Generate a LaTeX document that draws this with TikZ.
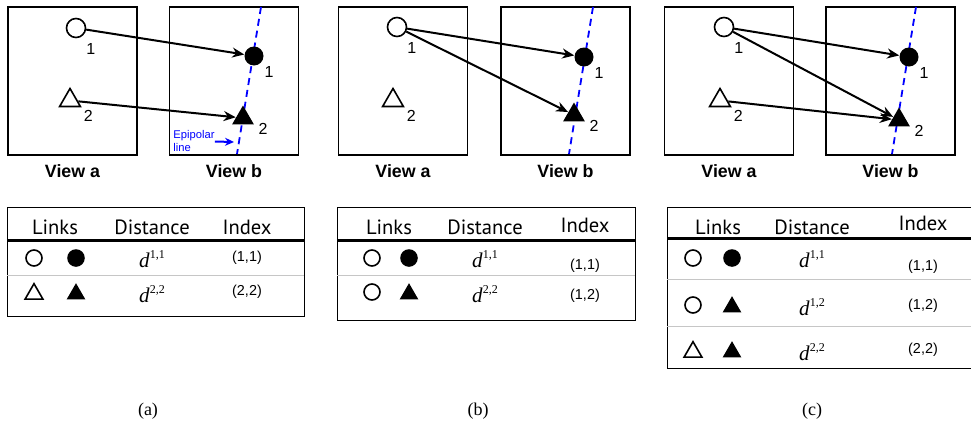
\documentclass[tikz,border=0pt]{standalone}
\usepackage{fontspec}
\setmainfont{Liberation Serif}
\newfontfamily\helv{Liberation Sans}
\newfontfamily\tabfont{PT Sans}
\usepackage{tikz}
\usetikzlibrary{
  arrows.meta,
  positioning,
  shapes.geometric
}
\newcommand{\dist}[1]{\textit{d}\raisebox{0.42em}{\fontsize{6}{6}\selectfont #1}}
\tikzset{
  viewbox/.style={draw, line width=0.6pt, inner sep=0pt,
    minimum width=64.5pt, minimum height=74pt},
  opencirc/.style={circle, draw, line width=0.8pt, fill=white,
    minimum size=9.5pt, inner sep=0pt},
  fullcirc/.style={circle, fill=black, minimum size=9.5pt, inner sep=0pt},
  opentri/.style={regular polygon, regular polygon sides=3, draw,
    line width=0.8pt, fill=white, minimum size=12pt, inner sep=0pt},
  fulltri/.style={regular polygon, regular polygon sides=3, fill=black,
    minimum size=12.5pt, inner sep=0pt},
  tabocirc/.style={circle, draw, line width=0.8pt, minimum size=8pt, inner sep=0pt},
  tabfcirc/.style={circle, fill=black, minimum size=8.8pt, inner sep=0pt},
  tabotri/.style={regular polygon, regular polygon sides=3, draw,
    line width=0.8pt, minimum size=10.3pt, inner sep=0pt},
  tabftri/.style={regular polygon, regular polygon sides=3, fill=black,
    minimum size=10.8pt, inner sep=0pt},
  ptlabel/.style={inner sep=0pt, font=\helv\fontsize{8}{9}\selectfont},
  viewlabel/.style={inner sep=0pt, font=\helv\bfseries\fontsize{8.9}{10}\selectfont},
  epitext/.style={inner sep=0pt, align=left, text=blue,
    font=\helv\fontsize{5.6}{6.4}\selectfont},
  link/.style={-{Stealth[length=6pt, width=5pt]}, line width=1pt},
  epiarrow/.style={-{Stealth[length=4.5pt, width=4pt]}, blue, line width=1pt},
  epiline/.style={blue, line width=0.9pt, dash pattern=on 3.5pt off 2.5pt},
  tableframe/.style={draw, line width=0.5pt},
  headline/.style={line width=1.5pt},
  sepline/.style={gray!45, line width=0.5pt},
  headtext/.style={font=\tabfont\fontsize{10.3}{12}\selectfont},
  disttext/.style={font=\fontsize{10.5}{13}\selectfont},
  idxtext/.style={font=\helv\fontsize{7.2}{8}\selectfont},
  capttext/.style={font=\fontsize{9}{11}\selectfont},
}

\begin{document}
\begin{tikzpicture}[x=0.5pt, y=-0.5pt]
  \useasboundingbox (0,0) rectangle (971,429);

  % Panel (a): one link per point
  \node[viewbox] (va1) at (72.5,81) {};
  \node[viewbox] (vb1) at (234,81) {};
  \node[viewlabel, below=4.2pt of va1] (va1lab) {View a};
  \node[viewlabel, below=4.2pt of vb1] (vb1lab) {View b};
  \coordinate (ep1top) at (261,7);
  \coordinate (ep1bot) at (237,154);
  \draw[epiline] (ep1top) -- (ep1bot);
  \node[opencirc] (c1) at (76,28) {};
  \node[opentri] (t1) at (70,100.5) {};
  \node[fullcirc] (fc1) at (254,56) {};
  \node[fulltri] (ft1) at (243,118) {};
  \node[ptlabel, below right=3.8pt and 1.4pt of c1] (c1num) {1};
  \node[ptlabel, below right=1.4pt and 1.6pt of fc1] (fc1num) {1};
  \node[ptlabel, below right=1.4pt and 3.3pt of t1] (t1num) {2};
  \node[ptlabel, below right=-0.9pt and 4.3pt of ft1] (ft1num) {2};
  \draw[link] (c1) -- (fc1);
  \draw[link] (t1) -- (ft1);
  \node[epitext, anchor=west] (eptext) at (173,141) {Epipolar\\line};
  \coordinate (eptip) at (234,142);
  \draw[epiarrow] (eptext) -- (eptip);

  % Panel (b): point 1 linked twice
  \node[viewbox] (va2) at (403,81) {};
  \node[viewbox] (vb2) at (565.5,81) {};
  \node[viewlabel, below=4.2pt of va2] (va2lab) {View a};
  \node[viewlabel, below=4.2pt of vb2] (vb2lab) {View b};
  \coordinate (ep2top) at (593,7);
  \coordinate (ep2bot) at (569,154);
  \draw[epiline] (ep2top) -- (ep2bot);
  \node[opencirc] (c2) at (397,27) {};
  \node[opentri] (t2) at (393,100.5) {};
  \node[fullcirc] (fc2) at (584,57) {};
  \node[fulltri] (ft2) at (574,115) {};
  \node[ptlabel, below right=3.8pt and 1.4pt of c2] (c2num) {1};
  \node[ptlabel, below right=1.4pt and 1.6pt of fc2] (fc2num) {1};
  \node[ptlabel, below right=1.4pt and 3.3pt of t2] (t2num) {2};
  \node[ptlabel, below right=-0.9pt and 4.3pt of ft2] (ft2num) {2};
  \draw[link] (c2) -- (fc2);
  \draw[link] (c2) -- (ft2);

  % Panel (c): all three links
  \node[viewbox] (va3) at (729,81) {};
  \node[viewbox] (vb3) at (890.5,81) {};
  \node[viewlabel, below=4.2pt of va3] (va3lab) {View a};
  \node[viewlabel, below=4.2pt of vb3] (vb3lab) {View b};
  \coordinate (ep3top) at (916,7);
  \coordinate (ep3bot) at (892,154);
  \draw[epiline] (ep3top) -- (ep3bot);
  \node[opencirc] (c3) at (724,27) {};
  \node[opentri] (t3) at (720,100.5) {};
  \node[fullcirc] (fc3) at (909,57) {};
  \node[fulltri] (ft3) at (899,120) {};
  \node[ptlabel, below right=3.8pt and 1.4pt of c3] (c3num) {1};
  \node[ptlabel, below right=1.4pt and 1.6pt of fc3] (fc3num) {1};
  \node[ptlabel, below right=1.4pt and 3.3pt of t3] (t3num) {2};
  \node[ptlabel, below right=-0.9pt and 4.3pt of ft3] (ft3num) {2};
  \draw[link] (c3) -- (fc3);
  \draw[link] (c3) -- (ft3);
  \draw[link] (t3) -- (ft3);

  % Table (a)
  \draw[tableframe] (7,207) rectangle (304,316);
  \draw[headline] (7,240) -- (304,240);
  \draw[sepline] (7,275) -- (304,275);
  \node[headtext] (links1) at (55,227) {Links};
  \node[headtext] (dist1) at (152,227) {Distance};
  \node[headtext] (idx1) at (247,227) {Index};
  \node[tabocirc] (a1o) at (34,258) {};
  \node[tabfcirc] (a1f) at (76,258) {};
  \node[disttext] (a1d) at (152,259) {\dist{1,1}};
  \node[idxtext] (a1i) at (247,258) {(1,1)};
  \node[tabotri] (a2o) at (34,294) {};
  \node[tabftri] (a2f) at (76,294) {};
  \node[disttext] (a2d) at (152,294) {\dist{2,2}};
  \node[idxtext] (a2i) at (247,292) {(2,2)};

  % Table (b)
  \draw[tableframe] (337,207) rectangle (635,320);
  \draw[headline] (337,240) -- (635,240);
  \draw[sepline] (337,275) -- (635,275);
  \node[headtext] (links2) at (389,227) {Links};
  \node[headtext] (dist2) at (485,227) {Distance};
  \node[headtext] (idx2) at (585,225) {Index};
  \node[tabocirc] (b1o) at (372,258) {};
  \node[tabfcirc] (b1f) at (409,258) {};
  \node[disttext] (b1d) at (485,259) {\dist{1,1}};
  \node[idxtext] (b1i) at (585,266) {(1,1)};
  \node[tabocirc] (b2o) at (372,292) {};
  \node[tabftri] (b2f) at (409,294) {};
  \node[disttext] (b2d) at (485,294) {\dist{2,2}};
  \node[idxtext] (b2i) at (585,296) {(1,2)};

  % Table (c), cut at the right border
  \draw[tableframe] (980,207) -- (667,207) -- (667,368) -- (980,368);
  \draw[headline] (667,238) -- (980,238);
  \draw[sepline] (667,279) -- (980,279);
  \draw[sepline] (667,326) -- (980,326);
  \node[headtext] (links3) at (718,227) {Links};
  \node[headtext] (dist3) at (812,227) {Distance};
  \node[headtext] (idx3) at (923,223) {Index};
  \node[tabocirc] (c1o) at (693,258) {};
  \node[tabfcirc] (c1f) at (732,258) {};
  \node[disttext] (c1d) at (812,259) {\dist{1,1}};
  \node[idxtext] (c1i) at (923,267) {(1,1)};
  \node[tabocirc] (c2o) at (693,305) {};
  \node[tabftri] (c2f) at (732,307) {};
  \node[disttext] (c2d) at (812,307) {\dist{1,2}};
  \node[idxtext] (c2i) at (923,306) {(1,2)};
  \node[tabotri] (c3o) at (693,352) {};
  \node[tabftri] (c3f) at (732,352) {};
  \node[disttext] (c3d) at (812,352) {\dist{2,2}};
  \node[idxtext] (c3i) at (923,350) {(2,2)};

  % captions
  \node[capttext] (capa) at (148,411) {(a)};
  \node[capttext] (capb) at (478,411) {(b)};
  \node[capttext] (capc) at (812,411) {(c)};
\end{tikzpicture}
\end{document}
